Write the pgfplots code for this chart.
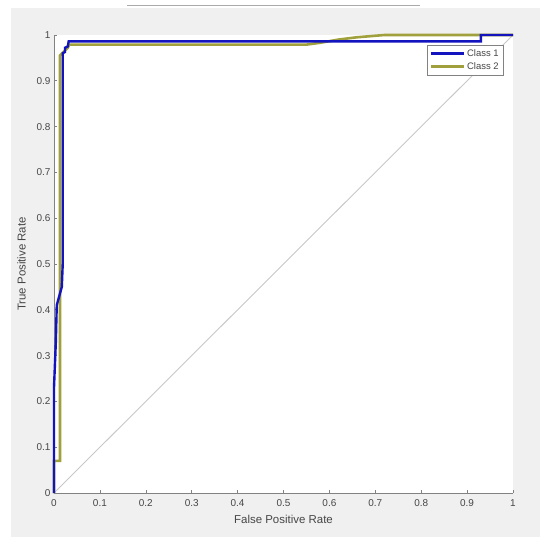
\documentclass[border=0pt]{standalone}
\usepackage{pgfplots}
\pgfplotsset{compat=1.18}
\usepackage{fontspec}
\setmainfont{Liberation Sans}

\definecolor{figbg}{RGB}{240,240,240}
\definecolor{txtgray}{RGB}{70,70,70}
\definecolor{axgray}{RGB}{130,130,130}
\definecolor{cls1}{RGB}{20,20,190}
\definecolor{cls2}{RGB}{160,160,60}
\definecolor{diag}{RGB}{200,200,200}

\begin{document}
\begin{tikzpicture}
\useasboundingbox[fill=white] (0,0) rectangle (550bp,546bp);
\fill[figbg] (11bp,9bp) rectangle (540bp,538bp);
\draw[color={rgb,255:red,170;green,170;blue,170}, line width=1bp] (127bp,540bp) -- (420bp,540bp);

\begin{axis}[
  at = {(54bp,53bp)}, anchor = south west,
  scale only axis, clip = false,
  width = 459bp, height = 458bp,
  xmin = 0, xmax = 1, ymin = 0, ymax = 1,
  axis x line* = bottom, axis y line* = left,
  axis line style = {axgray, line width=0.8bp, -},
  axis background/.style = {fill=white},
  xtick = {0,0.1,...,1}, ytick = {0,0.1,...,1},
  tick align = inside,
  major tick length = 3bp,
  tick style = {axgray, line width=0.6bp},
  ticklabel style = {font=\fontsize{10}{12}\selectfont, text=txtgray},
  xticklabel style = {yshift=-3bp},
  /pgf/number format/assume math mode=true,
  xlabel = {False Positive Rate}, ylabel = {True Positive Rate},
  label style = {font=\fontsize{11.5}{13}\selectfont, text=txtgray},
  xlabel style = {yshift=-2bp},
  ylabel style = {yshift=4bp},
  legend style = {at={(0.978,0.978)}, anchor=north east,
    draw=axgray, fill=white, font=\fontsize{9.5}{11}\selectfont, text=txtgray,
    inner sep=2bp, row sep=1bp},
  legend cell align = left,
  legend image code/.code = {\draw[#1] (0bp,0bp) -- (33bp,0bp);},
]

\addplot[diag, line width=0.9bp, forget plot] coordinates {(0,0) (1,1)};

\addplot[cls2, line width=2.6bp, forget plot] coordinates {
  (0,0) (0,0.07) (0.013,0.07) (0.013,0.955) (0.02,0.962)
  (0.025,0.967) (0.03,0.972) (0.033,0.979) (0.55,0.979)
  (0.58,0.983) (0.62,0.99) (0.66,0.995) (0.72,1) (1,1)
};

\addplot[cls1, line width=2.4bp] coordinates {
  (0,0) (0,0.23) (0.004,0.33) (0.006,0.41) (0.017,0.45)
  (0.019,0.5) (0.019,0.96) (0.024,0.963) (0.024,0.972)
  (0.03,0.975) (0.032,0.986) (0.93,0.986) (0.93,1) (1,1)
};
\addlegendentry{Class 1}

\addlegendimage{cls2, line width=2.6bp}
\addlegendentry{Class 2}

\end{axis}
\end{tikzpicture}
\end{document}
